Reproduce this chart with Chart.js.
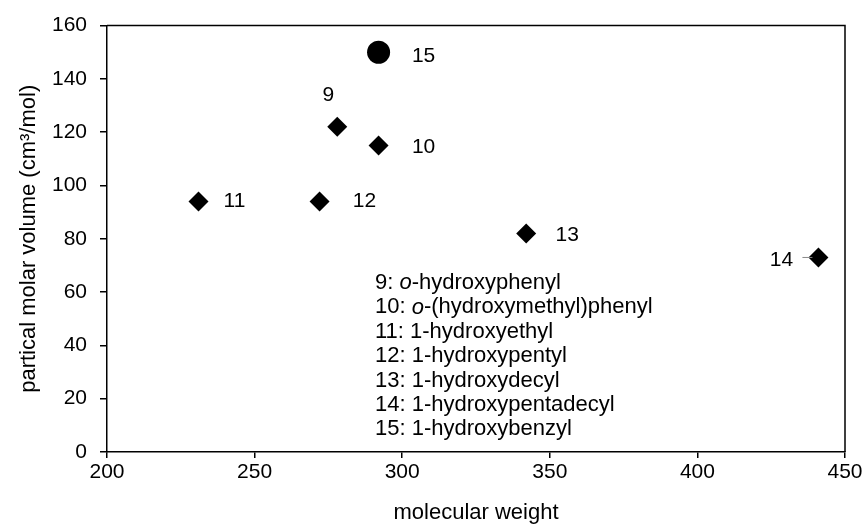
<!DOCTYPE html>
<html>
<head>
<meta charset="utf-8">
<script src="https://cdn.jsdelivr.net/npm/chart.js@4.4.0/dist/chart.umd.min.js"></script>
<style>
  html, body { margin: 0; padding: 0; background: #fff; }
  #wrap { width: 866px; height: 529px; }
</style>
</head>
<body>
<div id="wrap"><canvas id="chart" width="866" height="529"></canvas></div>
<script>
// compounds 9-14 (diamond markers)
const compoundIds = ['9', '10', '11', '12', '13', '14'];
const molecularWeight = [278, 292, 231, 272, 342, 441];
const molarVolume = [122, 115, 94, 94, 82, 73];

// compound 15 (circle marker)
const benzylIds = ['15'];
const benzylWeight = [292];
const benzylVolume = [150];

const xTicks = [200, 250, 300, 350, 400, 450];
const yTicks = [0, 20, 40, 60, 80, 100, 120, 140, 160];

const legendLines = [
  '9: o-hydroxyphenyl',
  '10: o-(hydroxymethyl)phenyl',
  '11: 1-hydroxyethyl',
  '12: 1-hydroxypentyl',
  '13: 1-hydroxydecyl',
  '14: 1-hydroxypentadecyl',
  '15: 1-hydroxybenzyl'
];

const FONT = '"Liberation Sans", Arial, sans-serif';

// label offsets from each marker, in pixels
const labelOffsets = {
  '9': [-9, -32], '10': [45, 2], '11': [36, 0], '12': [45, 0],
  '13': [41, 2], '14': [-37, 3], '15': [45, 4]
};

/**
 * Draws the number next to each point, the top/right frame and the key text
 */
const annotations = {
  id: 'annotations',
  afterDatasetsDraw(chart) {
    const ctx = chart.ctx;
    const area = chart.chartArea;

    // frame top + right
    ctx.save();
    ctx.strokeStyle = '#000';
    ctx.lineWidth = 1.5;
    ctx.beginPath();
    ctx.moveTo(area.left, area.top);
    ctx.lineTo(area.right, area.top);
    ctx.lineTo(area.right, area.bottom);
    ctx.stroke();

    // point labels
    ctx.font = '21px ' + FONT;
    ctx.fillStyle = '#000';
    ctx.textAlign = 'center';
    ctx.textBaseline = 'middle';
    chart.data.datasets.forEach((ds, di) => {
      chart.getDatasetMeta(di).data.forEach((pt, i) => {
        const id = ds.ids[i];
        const off = labelOffsets[id];
        ctx.fillText(id, pt.x + off[0], pt.y + off[1]);
        if (id === '14') {
          ctx.strokeStyle = '#888';
          ctx.lineWidth = 1;
          ctx.beginPath();
          ctx.moveTo(pt.x - 16, pt.y);
          ctx.lineTo(pt.x - 6, pt.y);
          ctx.stroke();
        }
      });
    });

    // key text
    ctx.textAlign = 'left';
    const fontSize = 22;
    legendLines.forEach((line, i) => {
      const y = 283 + i * 24.4;
      let x = 375;
      const m = line.match(/^(\d+: )o(-.*)$/);
      if (m) {
        ctx.font = fontSize + 'px ' + FONT;
        ctx.fillText(m[1], x, y);
        x += ctx.measureText(m[1]).width;
        ctx.font = 'italic ' + fontSize + 'px ' + FONT;
        ctx.fillText('o', x, y);
        x += ctx.measureText('o').width;
        ctx.font = fontSize + 'px ' + FONT;
        ctx.fillText(m[2], x, y);
      } else {
        ctx.font = fontSize + 'px ' + FONT;
        ctx.fillText(line, x, y);
      }
    });
    ctx.restore();
  }
};

const ctx = document.getElementById('chart').getContext('2d');
new Chart(ctx, {
  type: 'scatter',
  data: {
    datasets: [
      {
        ids: compoundIds,
        data: molecularWeight.map((x, i) => ({ x: x, y: molarVolume[i] })),
        pointStyle: 'rectRot',
        pointRadius: 10,
        backgroundColor: '#000',
        borderColor: '#000',
        borderWidth: 0
      },
      {
        ids: benzylIds,
        data: benzylWeight.map((x, i) => ({ x: x, y: benzylVolume[i] })),
        pointStyle: 'circle',
        pointRadius: 11.5,
        backgroundColor: '#000',
        borderColor: '#000',
        borderWidth: 0
      }
    ]
  },
  options: {
    responsive: false,
    animation: false,
    layout: { padding: { top: 22, right: 21, left: 0, bottom: 0 } },
    plugins: {
      legend: { display: false },
      tooltip: { enabled: false }
    },
    scales: {
      x: {
        type: 'linear',
        min: 200,
        max: 450,
        afterBuildTicks: (scale) => { scale.ticks = xTicks.map(v => ({ value: v })); },
        afterFit: (scale) => { scale.height = 77; },
        border: { color: '#000', width: 1.5 },
        grid: { drawOnChartArea: false, drawTicks: true, tickLength: 6, color: '#000', lineWidth: 1.5 },
        ticks: { color: '#000', font: { family: FONT, size: 21 }, padding: 2, maxRotation: 0 },
        title: {
          display: true,
          text: 'molecular weight',
          color: '#000',
          font: { family: FONT, size: 22 },
          padding: { top: 0, bottom: 3 }
        }
      },
      y: {
        type: 'linear',
        min: 0,
        max: 160,
        afterBuildTicks: (scale) => { scale.ticks = yTicks.map(v => ({ value: v })); },
        afterFit: (scale) => { scale.width = 107; },
        border: { color: '#000', width: 1.5 },
        grid: { drawOnChartArea: false, drawTicks: true, tickLength: 7, color: '#000', lineWidth: 1.5 },
        ticks: { color: '#000', font: { family: FONT, size: 21 }, padding: 13 },
        title: {
          display: true,
          text: 'partical molar volume (cm³/mol)',
          color: '#000',
          font: { family: FONT, size: 22 },
          padding: { top: 16, bottom: 0 }
        }
      }
    }
  },
  plugins: [annotations]
});
</script>
</body>
</html>
